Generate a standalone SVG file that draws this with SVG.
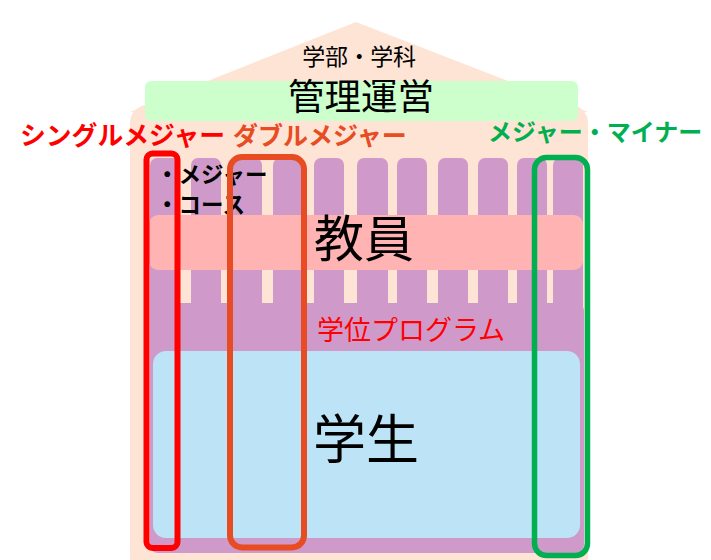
<svg xmlns="http://www.w3.org/2000/svg" width="711" height="560" viewBox="0 0 711 560">
<style>
text{font-family:"Noto Sans CJK JP","Noto Sans",sans-serif;}
.peach{fill:#FEE4D4;}
.purple{fill:#CF99C9;}
.frame{fill:none;}
</style>
<rect width="711" height="560" fill="#FFFFFF"/>
<g id="house">
<polygon class="peach" points="356,22 130,112 588,112"/>
<rect class="peach" x="130" y="105" width="458" height="470" rx="18"/>
</g>
<g id="columns" class="purple">
<rect x="150" y="158" width="30" height="160" rx="7"/>
<rect x="191" y="158" width="30" height="160" rx="7"/>
<rect x="232" y="158" width="30" height="160" rx="7"/>
<rect x="273" y="158" width="30" height="160" rx="7"/>
<rect x="314" y="158" width="30" height="160" rx="7"/>
<rect x="357" y="158" width="31" height="160" rx="7"/>
<rect x="397" y="158" width="30" height="160" rx="7"/>
<rect x="438" y="158" width="30" height="160" rx="7"/>
<rect x="478" y="158" width="30" height="160" rx="7"/>
<rect x="517" y="158" width="30" height="160" rx="7"/>
<rect x="553" y="158" width="30" height="160" rx="7"/>
<rect x="150" y="303" width="434" height="250" rx="8"/>
</g>
<g id="kanri">
<rect x="145" y="81" width="433" height="40" rx="6" fill="#CCFFCC"/>
<text x="359" y="65" font-size="23" text-anchor="middle" fill="#000" letter-spacing="-0.3">学部・学科</text>
<text x="361" y="110" font-size="36.5" text-anchor="middle" fill="#000">管理運営</text>
</g>
<g id="major-course">
<text x="156" y="183" font-size="22.5" font-weight="bold" fill="#000">・メジャー</text>
<text x="156" y="213" font-size="22.5" font-weight="bold" fill="#000">・コース</text>
</g>
<g id="kyoin">
<rect x="149" y="215" width="434" height="55" rx="9" fill="#FFB3B3"/>
<text x="364" y="257" font-size="50" text-anchor="middle" fill="#000">教員</text>
</g>
<g id="gakui">
<text x="411" y="340" font-size="27" text-anchor="middle" fill="#FF0000">学位プログラム</text>
</g>
<g id="gakusei">
<rect x="153" y="351" width="427" height="187" rx="13" fill="#BCE3F6"/>
<text x="366" y="459" font-size="53" text-anchor="middle" fill="#000">学生</text>
</g>
<g id="single">
<rect class="frame" x="146.5" y="153.5" width="31" height="394.5" rx="6" stroke="#FF0000" stroke-width="6"/>
<text x="20" y="145" font-size="25.8" font-weight="bold" fill="#FF0000">シングルメジャー</text>
</g>
<g id="double">
<rect class="frame" x="230" y="157" width="74" height="390.5" rx="12" stroke="#E84C22" stroke-width="6"/>
<text x="233" y="145" font-size="25" font-weight="bold" fill="#E84C22">ダブルメジャー</text>
</g>
<g id="major-minor">
<rect class="frame" x="534.5" y="157.5" width="53" height="398" rx="12" stroke="#00B050" stroke-width="5.5"/>
<text x="488" y="141" font-size="24" font-weight="bold" fill="#00B050">メジャー・マイナー</text>
</g>
<g id="connectors"></g>
</svg>
